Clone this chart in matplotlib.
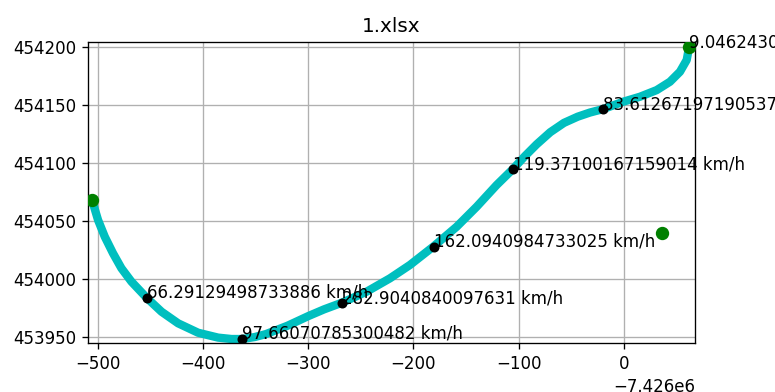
import matplotlib
matplotlib.use("Agg")
import matplotlib.pyplot as plt

OFFSET_X = -7426000.0

# track (x relative to offset, y absolute)
track_x = [-505.4, -499.7, -493.3, -485.5, -477.5, -468.0, -453.1, -439.4, -423.6,
           -404.6, -385.6, -372.9, -362.5, -350.8, -340.0, -320.0, -300.0, -285.0,
           -267.8, -244.6, -222.4, -203.4, -181.3, -159.0, -140.0, -121.0, -105.8,
           -94.0, -83.0, -70.0, -57.0, -44.0, -32.3, -19.7, -0.7, 15.2, 31.1, 43.7,
           53.2, 59.6, 61.8]
track_y = [454068.1, 454050.9, 454036.5, 454022.3, 454009.4, 453997.9, 453983.6,
           453972.0, 453962.0, 453953.9, 453949.7, 453948.5, 453948.5, 453950.2,
           453952.8, 453959.8, 453968.2, 453974.0, 453979.8, 453989.2, 454000.7,
           454012.2, 454027.9, 454045.1, 454062.3, 454081.0, 454094.5, 454106.0,
           454116.0, 454126.5, 454134.5, 454139.8, 454143.4, 454146.4, 454152.7,
           454157.0, 454162.7, 454169.9, 454178.5, 454188.6, 454199.5]

# labelled speed points
speed_x = [-453.1, -362.5, -267.8, -180.6, -105.8, -20.2]
speed_y = [453984.1, 453948.8, 453979.3, 454027.9, 454094.5, 454146.1]
speed_labels = ["66.29129498733886 km/h", "97.66070785300482 km/h",
                "282.9040840097631 km/h", "162.0940984733025 km/h",
                "119.37100167159014 km/h", "83.61267197190537 km/h"]

# green points
green_x = [-505.4, 61.8, 36.4]
green_y = [454068.1, 454199.5, 454039.5]
end_label = "9.046243062748 km/h"

fig = plt.figure(figsize=(775 / 120, 392 / 120), dpi=120)
ax = fig.add_axes([0.1132, 0.1242, 0.7836, 0.7678])

tx = [OFFSET_X + v for v in track_x]
sx = [OFFSET_X + v for v in speed_x]
gx = [OFFSET_X + v for v in green_x]

ax.plot(tx, track_y, color='c', linewidth=5, solid_capstyle='round',
        solid_joinstyle='round', zorder=2)
ax.plot(sx, speed_y, 'o', color='black', markersize=5, linestyle='none', zorder=3)
for x, y, s in zip(sx, speed_y, speed_labels):
    ax.text(x, y, s, fontsize=10, zorder=4)
ax.plot(gx, green_y, 'o', color='green', markersize=7, linestyle='none', zorder=3)
ax.text(gx[1], green_y[1], end_label, fontsize=10, zorder=4)

ax.set_xlim(OFFSET_X - 509.5, OFFSET_X + 67.5)
ax.set_ylim(453944.8, 454203.8)
ax.grid(True)
ax.set_title("1.xlsx")

fig.savefig("out.png", dpi=120)
